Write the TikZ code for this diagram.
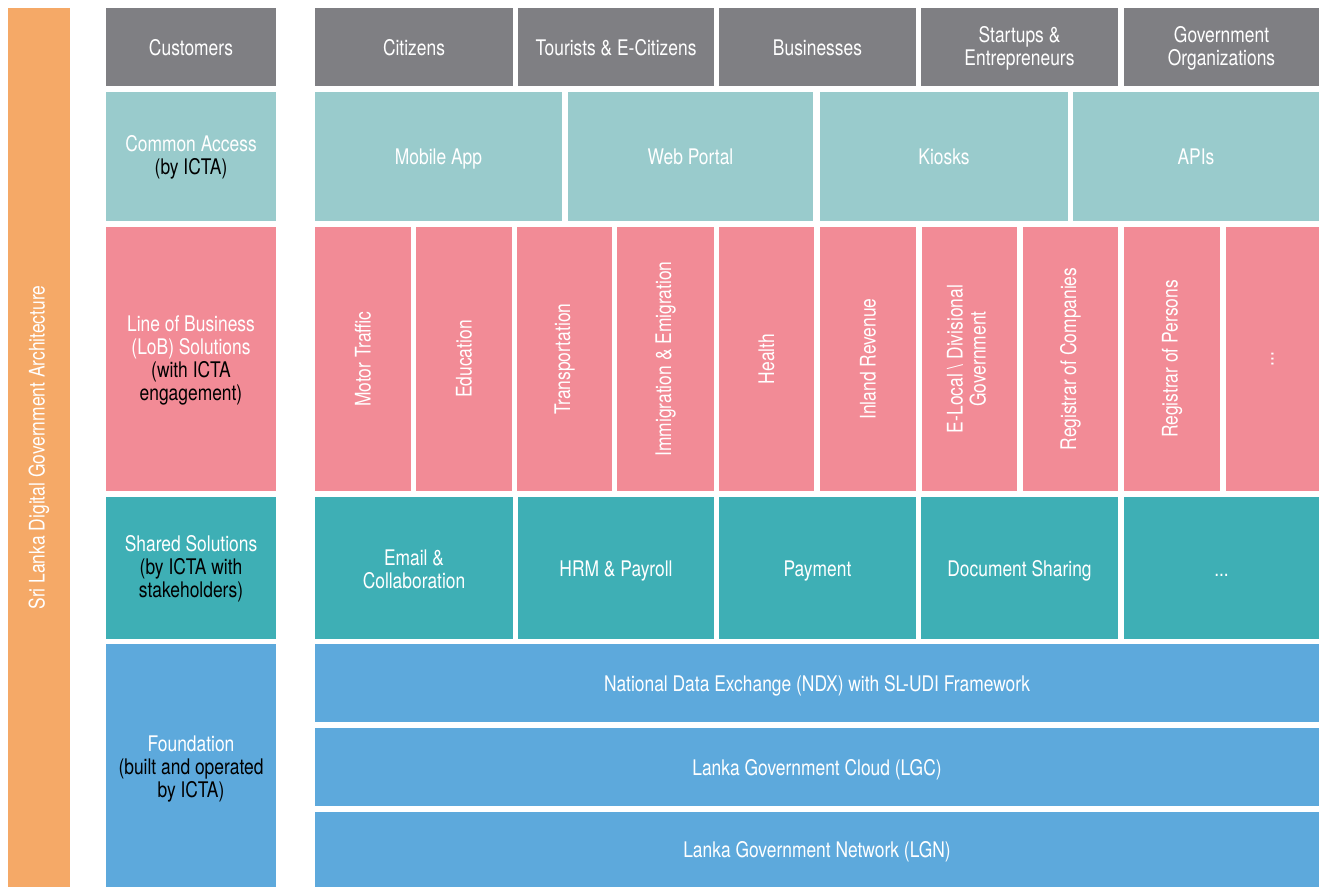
\documentclass[tikz,border=0pt]{standalone}
\usepackage{fontspec}
\setmainfont{TeX Gyre Heros}[FakeStretch=0.81]
\definecolor{layergrey}{HTML}{7F7F83}
\definecolor{accessteal}{HTML}{99CBCC}
\definecolor{lobpink}{HTML}{F28B96}
\definecolor{sharedteal}{HTML}{3EAFB5}
\definecolor{foundblue}{HTML}{5DA9DC}
\definecolor{archorange}{HTML}{F5A967}
\tikzset{
  cell/.style={inner sep=0pt,outer sep=0pt,draw=none,anchor=north west,
    align=center,text=white,font=\fontsize{21.5}{23}\selectfont},
}
% name, x1, y1, x2, y2, fill, text
\newcommand\cellbox[7]{%
  \node[cell,fill=#6,minimum width={#4pt-#2pt},minimum height={#5pt-#3pt}] (#1) at (#2,#3) {#7};}
\newcommand\up[1]{\rotatebox{90}{#1}}
\newcommand\dark[1]{\textcolor{black}{#1}}
% struts that fix the vertical placement of one-line and several-line labels
\newcommand\sline{\rule[-4.5pt]{0pt}{25.5pt}}
\newcommand\mline{\rule{0pt}{18pt}}
\newcommand\fline{\rule{0pt}{22pt}}
\begin{document}
\begin{tikzpicture}[x=1pt,y=-1pt]
\useasboundingbox (0,0) rectangle (1319,887);

% overall title bar
\cellbox{title}{8}{8}{70}{887}{archorange}{\up{Sri Lanka Digital Government Architecture}}

% layer headings
\cellbox{hcust}{106}{8}{276}{86}{layergrey}{\sline Customers}
\cellbox{hacc}{106}{92}{276}{221}{accessteal}{\mline Common Access\\\dark{(by ICTA)}}
\cellbox{hlob}{106}{227}{276}{491}{lobpink}{\mline Line of Business\\(LoB) Solutions\\\dark{(with ICTA}\\\dark{engagement)}}
\cellbox{hshared}{106}{497}{276}{639}{sharedteal}{\mline Shared Solutions\\\dark{(by ICTA with}\\\dark{stakeholders)}}
\cellbox{hfound}{106}{644}{276}{887}{foundblue}{\fline Foundation\\\dark{(built and operated}\\\dark{by ICTA)}}

% customers
\cellbox{citizens}{315}{8}{513}{86}{layergrey}{\sline Citizens}
\cellbox{tourists}{518}{8}{714}{86}{layergrey}{\sline Tourists \& E-Citizens}
\cellbox{business}{719}{8}{916}{86}{layergrey}{\sline Businesses}
\cellbox{startups}{921}{8}{1118}{86}{layergrey}{\mline Startups \&\\Entrepreneurs}
\cellbox{govorg}{1124}{8}{1319}{86}{layergrey}{\mline Government\\Organizations}

% common access channels
\cellbox{mobile}{315}{92}{562}{221}{accessteal}{\sline Mobile App}
\cellbox{web}{568}{92}{813}{221}{accessteal}{\sline Web Portal}
\cellbox{kiosks}{820}{92}{1068}{221}{accessteal}{\sline Kiosks}
\cellbox{apis}{1073}{92}{1319}{221}{accessteal}{\sline APIs}

% line of business solutions
\cellbox{motor}{315}{227}{411}{491}{lobpink}{\up{Motor Traffic}}
\cellbox{edu}{416}{227}{512}{491}{lobpink}{\up{Education}}
\cellbox{transport}{517}{227}{612}{491}{lobpink}{\up{Transportation}}
\cellbox{immig}{617}{227}{714}{491}{lobpink}{\up{Immigration \& Emigration}}
\cellbox{health}{719}{227}{814}{491}{lobpink}{\up{Health}}
\cellbox{inland}{820}{227}{916}{491}{lobpink}{\up{Inland Revenue}}
\cellbox{elocal}{922}{227}{1017}{491}{lobpink}{\up{\begin{tabular}{@{}c@{}}E-Local \textbackslash{} Divisional\\Government\end{tabular}}}
\cellbox{regcomp}{1023}{227}{1118}{491}{lobpink}{\up{Registrar of Companies}}
\cellbox{regpers}{1124}{227}{1220}{491}{lobpink}{\up{Registrar of Persons}}
\cellbox{lobmore}{1226}{227}{1319}{491}{lobpink}{\up{...}}

% shared solutions
\cellbox{email}{315}{497}{513}{639}{sharedteal}{\mline Email \&\\Collaboration}
\cellbox{hrm}{518}{497}{714}{639}{sharedteal}{\sline HRM \& Payroll}
\cellbox{payment}{719}{497}{916}{639}{sharedteal}{\sline Payment}
\cellbox{docshare}{921}{497}{1118}{639}{sharedteal}{\sline Document Sharing}
\cellbox{sharedmore}{1124}{497}{1319}{639}{sharedteal}{\sline ...}

% foundation
\cellbox{ndx}{315}{644}{1319}{722}{foundblue}{\sline National Data Exchange (NDX) with SL-UDI Framework}
\cellbox{lgc}{315}{728}{1319}{806}{foundblue}{\sline Lanka Government Cloud (LGC)}
\cellbox{lgn}{315}{812}{1319}{887}{foundblue}{\sline Lanka Government Network (LGN)}
\end{tikzpicture}
\end{document}
